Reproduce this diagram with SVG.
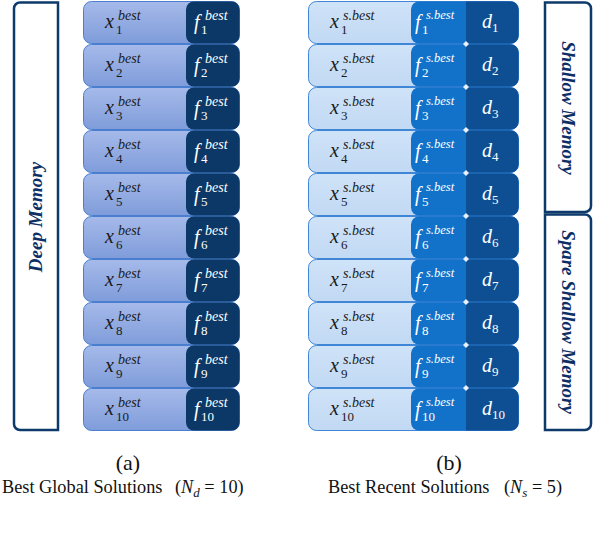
<svg xmlns="http://www.w3.org/2000/svg" xmlns:xlink="http://www.w3.org/1999/xlink" width="594" height="534" viewBox="0 0 594 534">
<defs>
<linearGradient id="gl" x1="0" y1="0" x2="0" y2="1"><stop offset="0" stop-color="#a6baea"/><stop offset="1" stop-color="#7f9cda"/></linearGradient>
<linearGradient id="gr" x1="0" y1="0" x2="0" y2="1"><stop offset="0" stop-color="#cfe3f8"/><stop offset="1" stop-color="#c2d9f4"/></linearGradient>
<rect id="lx" x="83.5" y="0.5" width="156" height="42" rx="8"/>
<rect id="lf" x="186" y="0.5" width="53.5" height="42" rx="8"/>
<rect id="rx" x="308.5" y="0.5" width="210" height="42" rx="8"/>
<rect id="rf" x="411" y="0.5" width="107.5" height="42" rx="8"/>
<path id="rd" d="M466,0.5 H510.5 a8,8 0 0 1 8,8 V34.5 a8,8 0 0 1 -8,8 H466 Z"/>
<path id="dm" d="M466,-3 l3,3 l-3,3 l-3,-3 Z"/>
</defs>
<style>
.lx{fill:url(#gl);stroke:#4a7fcf;stroke-width:1}
.lf{fill:#0b3866}
.rx{fill:url(#gr);stroke:#3f86d6;stroke-width:1}
.rf{fill:#1271c9}
.rd{fill:#0e4f93}
.dm{fill:#e8f1fb}
.m{font-family:"Liberation Serif",serif;font-style:italic;font-size:20px;fill:#1a1a1a}
.w{fill:#ffffff}
.sp{font-size:14px}
.sp2{font-size:12.5px}
.sb{font-size:13px;font-style:normal}
.br{fill:#ffffff;stroke:#0d3a6b;stroke-width:2.5}
.bt{font-family:"Liberation Serif",serif;font-style:italic;font-weight:bold;font-size:19px;fill:#0d2f66;text-anchor:middle}
.cap{font-family:"Liberation Serif",serif;fill:#111111}
</style>

<g id="deep-memory">
<path class="br" d="M20,2.5 H58 V430 H20 a6,6 0 0 1 -6,-6 V8.5 a6,6 0 0 1 6,-6 Z"/>
<text class="bt" transform="translate(42,217) rotate(-90)">Deep Memory</text>
</g>
<g id="shallow-memory">
<path class="br" d="M545,2.5 H585 a6,6 0 0 1 6,6 V206 a6,6 0 0 1 -6,6 H545 Z"/>
<text class="bt" transform="translate(562,108) rotate(90)">Shallow Memory</text>
</g>
<g id="spare-shallow-memory">
<path class="br" d="M545,214.5 H585 a6,6 0 0 1 6,6 V424 a6,6 0 0 1 -6,6 H545 Z"/>
<text class="bt" transform="translate(562,322) rotate(90)">Spare Shallow Memory</text>
</g>

<g id="a1" transform="translate(0,1)"><use href="#lx" class="lx"/><use href="#lf" class="lf"/><text class="m"><tspan x="105" y="27">x</tspan><tspan class="sp" x="118" y="19">best</tspan><tspan class="sb" x="116" y="33">1</tspan></text><text class="m w"><tspan x="194" y="28">f</tspan><tspan class="sp" x="205" y="19">best</tspan><tspan class="sb" x="201" y="33">1</tspan></text></g>
<g id="a2" transform="translate(0,44)"><use href="#lx" class="lx"/><use href="#lf" class="lf"/><text class="m"><tspan x="105" y="27">x</tspan><tspan class="sp" x="118" y="19">best</tspan><tspan class="sb" x="116" y="33">2</tspan></text><text class="m w"><tspan x="194" y="28">f</tspan><tspan class="sp" x="205" y="19">best</tspan><tspan class="sb" x="201" y="33">2</tspan></text></g>
<g id="a3" transform="translate(0,87)"><use href="#lx" class="lx"/><use href="#lf" class="lf"/><text class="m"><tspan x="105" y="27">x</tspan><tspan class="sp" x="118" y="19">best</tspan><tspan class="sb" x="116" y="33">3</tspan></text><text class="m w"><tspan x="194" y="28">f</tspan><tspan class="sp" x="205" y="19">best</tspan><tspan class="sb" x="201" y="33">3</tspan></text></g>
<g id="a4" transform="translate(0,130)"><use href="#lx" class="lx"/><use href="#lf" class="lf"/><text class="m"><tspan x="105" y="27">x</tspan><tspan class="sp" x="118" y="19">best</tspan><tspan class="sb" x="116" y="33">4</tspan></text><text class="m w"><tspan x="194" y="28">f</tspan><tspan class="sp" x="205" y="19">best</tspan><tspan class="sb" x="201" y="33">4</tspan></text></g>
<g id="a5" transform="translate(0,173)"><use href="#lx" class="lx"/><use href="#lf" class="lf"/><text class="m"><tspan x="105" y="27">x</tspan><tspan class="sp" x="118" y="19">best</tspan><tspan class="sb" x="116" y="33">5</tspan></text><text class="m w"><tspan x="194" y="28">f</tspan><tspan class="sp" x="205" y="19">best</tspan><tspan class="sb" x="201" y="33">5</tspan></text></g>
<g id="a6" transform="translate(0,216)"><use href="#lx" class="lx"/><use href="#lf" class="lf"/><text class="m"><tspan x="105" y="27">x</tspan><tspan class="sp" x="118" y="19">best</tspan><tspan class="sb" x="116" y="33">6</tspan></text><text class="m w"><tspan x="194" y="28">f</tspan><tspan class="sp" x="205" y="19">best</tspan><tspan class="sb" x="201" y="33">6</tspan></text></g>
<g id="a7" transform="translate(0,259)"><use href="#lx" class="lx"/><use href="#lf" class="lf"/><text class="m"><tspan x="105" y="27">x</tspan><tspan class="sp" x="118" y="19">best</tspan><tspan class="sb" x="116" y="33">7</tspan></text><text class="m w"><tspan x="194" y="28">f</tspan><tspan class="sp" x="205" y="19">best</tspan><tspan class="sb" x="201" y="33">7</tspan></text></g>
<g id="a8" transform="translate(0,302)"><use href="#lx" class="lx"/><use href="#lf" class="lf"/><text class="m"><tspan x="105" y="27">x</tspan><tspan class="sp" x="118" y="19">best</tspan><tspan class="sb" x="116" y="33">8</tspan></text><text class="m w"><tspan x="194" y="28">f</tspan><tspan class="sp" x="205" y="19">best</tspan><tspan class="sb" x="201" y="33">8</tspan></text></g>
<g id="a9" transform="translate(0,345)"><use href="#lx" class="lx"/><use href="#lf" class="lf"/><text class="m"><tspan x="105" y="27">x</tspan><tspan class="sp" x="118" y="19">best</tspan><tspan class="sb" x="116" y="33">9</tspan></text><text class="m w"><tspan x="194" y="28">f</tspan><tspan class="sp" x="205" y="19">best</tspan><tspan class="sb" x="201" y="33">9</tspan></text></g>
<g id="a10" transform="translate(0,388)"><use href="#lx" class="lx"/><use href="#lf" class="lf"/><text class="m"><tspan x="105" y="27">x</tspan><tspan class="sp" x="118" y="19">best</tspan><tspan class="sb" x="116" y="33">10</tspan></text><text class="m w"><tspan x="194" y="28">f</tspan><tspan class="sp" x="205" y="19">best</tspan><tspan class="sb" x="201" y="33">10</tspan></text></g>

<g id="b1" transform="translate(0,1)"><use href="#rx" class="rx"/><use href="#rf" class="rf"/><use href="#rd" class="rd"/><text class="m"><tspan x="330" y="27">x</tspan><tspan class="sp" x="343" y="19">s.best</tspan><tspan class="sb" x="341" y="33">1</tspan></text><text class="m w"><tspan x="415" y="28">f</tspan><tspan class="sp2" x="426" y="18">s.best</tspan><tspan class="sb" x="422" y="33">1</tspan></text><text class="m w"><tspan x="482" y="27">d</tspan><tspan class="sb" x="492" y="31">1</tspan></text></g>
<g id="b2" transform="translate(0,44)"><use href="#rx" class="rx"/><use href="#rf" class="rf"/><use href="#rd" class="rd"/><text class="m"><tspan x="330" y="27">x</tspan><tspan class="sp" x="343" y="19">s.best</tspan><tspan class="sb" x="341" y="33">2</tspan></text><text class="m w"><tspan x="415" y="28">f</tspan><tspan class="sp2" x="426" y="18">s.best</tspan><tspan class="sb" x="422" y="33">2</tspan></text><text class="m w"><tspan x="482" y="27">d</tspan><tspan class="sb" x="492" y="31">2</tspan></text></g>
<g id="b3" transform="translate(0,87)"><use href="#rx" class="rx"/><use href="#rf" class="rf"/><use href="#rd" class="rd"/><text class="m"><tspan x="330" y="27">x</tspan><tspan class="sp" x="343" y="19">s.best</tspan><tspan class="sb" x="341" y="33">3</tspan></text><text class="m w"><tspan x="415" y="28">f</tspan><tspan class="sp2" x="426" y="18">s.best</tspan><tspan class="sb" x="422" y="33">3</tspan></text><text class="m w"><tspan x="482" y="27">d</tspan><tspan class="sb" x="492" y="31">3</tspan></text></g>
<g id="b4" transform="translate(0,130)"><use href="#rx" class="rx"/><use href="#rf" class="rf"/><use href="#rd" class="rd"/><text class="m"><tspan x="330" y="27">x</tspan><tspan class="sp" x="343" y="19">s.best</tspan><tspan class="sb" x="341" y="33">4</tspan></text><text class="m w"><tspan x="415" y="28">f</tspan><tspan class="sp2" x="426" y="18">s.best</tspan><tspan class="sb" x="422" y="33">4</tspan></text><text class="m w"><tspan x="482" y="27">d</tspan><tspan class="sb" x="492" y="31">4</tspan></text></g>
<g id="b5" transform="translate(0,173)"><use href="#rx" class="rx"/><use href="#rf" class="rf"/><use href="#rd" class="rd"/><text class="m"><tspan x="330" y="27">x</tspan><tspan class="sp" x="343" y="19">s.best</tspan><tspan class="sb" x="341" y="33">5</tspan></text><text class="m w"><tspan x="415" y="28">f</tspan><tspan class="sp2" x="426" y="18">s.best</tspan><tspan class="sb" x="422" y="33">5</tspan></text><text class="m w"><tspan x="482" y="27">d</tspan><tspan class="sb" x="492" y="31">5</tspan></text></g>
<g id="b6" transform="translate(0,216)"><use href="#rx" class="rx"/><use href="#rf" class="rf"/><use href="#rd" class="rd"/><text class="m"><tspan x="330" y="27">x</tspan><tspan class="sp" x="343" y="19">s.best</tspan><tspan class="sb" x="341" y="33">6</tspan></text><text class="m w"><tspan x="415" y="28">f</tspan><tspan class="sp2" x="426" y="18">s.best</tspan><tspan class="sb" x="422" y="33">6</tspan></text><text class="m w"><tspan x="482" y="27">d</tspan><tspan class="sb" x="492" y="31">6</tspan></text></g>
<g id="b7" transform="translate(0,259)"><use href="#rx" class="rx"/><use href="#rf" class="rf"/><use href="#rd" class="rd"/><text class="m"><tspan x="330" y="27">x</tspan><tspan class="sp" x="343" y="19">s.best</tspan><tspan class="sb" x="341" y="33">7</tspan></text><text class="m w"><tspan x="415" y="28">f</tspan><tspan class="sp2" x="426" y="18">s.best</tspan><tspan class="sb" x="422" y="33">7</tspan></text><text class="m w"><tspan x="482" y="27">d</tspan><tspan class="sb" x="492" y="31">7</tspan></text></g>
<g id="b8" transform="translate(0,302)"><use href="#rx" class="rx"/><use href="#rf" class="rf"/><use href="#rd" class="rd"/><text class="m"><tspan x="330" y="27">x</tspan><tspan class="sp" x="343" y="19">s.best</tspan><tspan class="sb" x="341" y="33">8</tspan></text><text class="m w"><tspan x="415" y="28">f</tspan><tspan class="sp2" x="426" y="18">s.best</tspan><tspan class="sb" x="422" y="33">8</tspan></text><text class="m w"><tspan x="482" y="27">d</tspan><tspan class="sb" x="492" y="31">8</tspan></text></g>
<g id="b9" transform="translate(0,345)"><use href="#rx" class="rx"/><use href="#rf" class="rf"/><use href="#rd" class="rd"/><text class="m"><tspan x="330" y="27">x</tspan><tspan class="sp" x="343" y="19">s.best</tspan><tspan class="sb" x="341" y="33">9</tspan></text><text class="m w"><tspan x="415" y="28">f</tspan><tspan class="sp2" x="426" y="18">s.best</tspan><tspan class="sb" x="422" y="33">9</tspan></text><text class="m w"><tspan x="482" y="27">d</tspan><tspan class="sb" x="492" y="31">9</tspan></text></g>
<g id="b10" transform="translate(0,388)"><use href="#rx" class="rx"/><use href="#rf" class="rf"/><use href="#rd" class="rd"/><text class="m"><tspan x="330" y="27">x</tspan><tspan class="sp" x="343" y="19">s.best</tspan><tspan class="sb" x="341" y="33">10</tspan></text><text class="m w"><tspan x="415" y="28">f</tspan><tspan class="sp2" x="426" y="18">s.best</tspan><tspan class="sb" x="422" y="33">10</tspan></text><text class="m w"><tspan x="482" y="27">d</tspan><tspan class="sb" x="492" y="31">10</tspan></text></g>

<g id="connectors">
<use href="#dm" class="dm" y="44"/><use href="#dm" class="dm" y="87"/><use href="#dm" class="dm" y="130"/><use href="#dm" class="dm" y="173"/><use href="#dm" class="dm" y="216"/><use href="#dm" class="dm" y="259"/><use href="#dm" class="dm" y="302"/><use href="#dm" class="dm" y="345"/><use href="#dm" class="dm" y="388"/>
</g>

<g id="caption-a">
<text class="cap" x="128" y="470" font-size="22" text-anchor="middle">(a)</text>
<text class="cap" x="2" y="493" font-size="18.3">Best Global Solutions <tspan x="175">(</tspan><tspan font-style="italic">N</tspan><tspan font-style="italic" font-size="13" dy="4">d</tspan><tspan dy="-4"> = 10)</tspan></text>
</g>
<g id="caption-b">
<text class="cap" x="449" y="470" font-size="22" text-anchor="middle">(b)</text>
<text class="cap" x="328" y="493" font-size="18.3">Best Recent Solutions <tspan x="504">(</tspan><tspan font-style="italic">N</tspan><tspan font-style="italic" font-size="13" dy="4">s</tspan><tspan dy="-4"> = 5)</tspan></text>
</g>
</svg>
